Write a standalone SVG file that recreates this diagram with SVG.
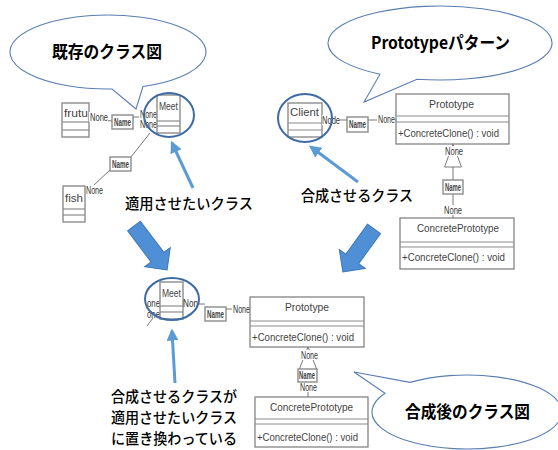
<svg xmlns="http://www.w3.org/2000/svg" width="558" height="450" viewBox="0 0 558 450">
  <style>
    .bubble { fill: #ffffff; stroke: #5a7eb2; stroke-width: 1.1; }
    .title { font-family: "Noto Sans CJK JP", "Liberation Sans", sans-serif; font-weight: bold; font-size: 17px; fill: #000; }
    .note { font-family: "Noto Sans CJK JP", "Liberation Sans", sans-serif; font-weight: 500; font-size: 15px; fill: #000; }
    .cls { fill: #ffffff; stroke: #8c8c8c; stroke-width: 1.4; }
    .big { fill: #ffffff; stroke: #7a7a7a; stroke-width: 1.2; }
    .sep { stroke: #8c8c8c; stroke-width: 1.2; fill: none; }
    .ctext { font-family: "Liberation Sans", "DejaVu Sans", sans-serif; font-size: 11px; fill: #444; }
    .lbl { font-family: "Liberation Sans", "DejaVu Sans", sans-serif; font-size: 10px; fill: #333; }
    .namebox { fill: #ffffff; stroke: #8c8c8c; stroke-width: 1.4; }
    .nametext { font-family: "Liberation Sans", "DejaVu Sans", sans-serif; font-size: 10px; font-weight: bold; fill: #444; }
    .link { stroke: #7a7a7a; stroke-width: 1; fill: none; }
    .ring { fill: none; stroke: #3e6ba3; stroke-width: 2; }
    .pointer { stroke: #5b9bd5; stroke-width: 3; fill: none; }
    .block { fill: #4f8fd6; stroke: #3b77bd; stroke-width: 1; }
  </style>
  <defs>
    <marker id="head" viewBox="0 0 10 10" refX="8" refY="5" markerWidth="4" markerHeight="4" orient="auto">
      <path d="M0,0 L10,5 L0,10 Z" fill="#5b9bd5"/>
    </marker>
  </defs>

  <!-- speech bubbles -->
  <g id="bubble-existing">
    <path class="bubble" d="M143,86.56 A98,37 0 1 0 112,88.97 L136,109 Z"/>
    <text class="title" x="52" y="58" textLength="110" lengthAdjust="spacingAndGlyphs">既存のクラス図</text>
  </g>
  <g id="bubble-pattern">
    <path class="bubble" d="M417,79.21 A112,37 0 1 0 380,74.24 L364,102 Z"/>
    <text class="title" x="371" y="49" textLength="139" lengthAdjust="spacingAndGlyphs">Prototypeパターン</text>
  </g>
  <g id="bubble-merged">
    <path class="bubble" d="M410,382.4 A95,37 0 1 1 385,393.3 L354,372 Z"/>
    <text class="title" x="405" y="418" textLength="125" lengthAdjust="spacingAndGlyphs">合成後のクラス図</text>
  </g>

  <!-- connectors -->
  <g id="connectors">
    <!-- existing diagram -->
    <line class="link" x1="89" y1="119" x2="112" y2="121"/>
    <line class="link" x1="133" y1="117" x2="157" y2="117"/>
    <line class="link" x1="150" y1="133" x2="131" y2="157"/>
    <line class="link" x1="110" y1="170" x2="94" y2="185"/>
    <!-- pattern diagram -->
    <line class="link" x1="322" y1="120" x2="347" y2="120"/>
    <line class="link" x1="368" y1="120" x2="396" y2="120"/>
    <path class="link" d="M453,144 L444.5,167 L461.5,167 Z" fill="#fff"/>
    <line class="link" x1="453" y1="167" x2="453" y2="180"/>
    <line class="link" x1="453" y1="194" x2="453" y2="218"/>
    <!-- merged diagram -->
    <line class="link" x1="199" y1="304" x2="205" y2="304"/>
    <line class="link" x1="226" y1="309" x2="250" y2="309"/>
    <line class="link" x1="147" y1="326" x2="153" y2="318"/>
    <path class="link" d="M308,347 L299,370 M308,347 L317,370"/>
    <line class="link" x1="308" y1="383" x2="308" y2="397"/>
  </g>

  <!-- existing class diagram -->
  <g id="class-frutu">
    <rect class="cls" x="62" y="103" width="27" height="34"/>
    <line class="sep" x1="62" y1="122" x2="89" y2="122"/>
    <line class="sep" x1="62" y1="130" x2="89" y2="130"/>
    <text class="ctext" x="64" y="117" textLength="24" lengthAdjust="spacingAndGlyphs">frutu</text>
  </g>
  <g id="name-1">
    <rect x="89" y="112" width="19" height="10" fill="#fff"/>
    <text class="lbl" x="90" y="121" textLength="18" lengthAdjust="spacingAndGlyphs">None</text>
    <rect class="namebox" x="112" y="115" width="21" height="14"/>
    <text class="nametext" x="114" y="126" textLength="17" lengthAdjust="spacingAndGlyphs">Name</text>
  </g>
  <g id="class-meet">
    <rect x="139" y="109" width="18" height="21" fill="#fff"/>
    <text class="lbl" x="140" y="118" font-size="9" textLength="17" lengthAdjust="spacingAndGlyphs">None</text>
    <text class="lbl" x="140" y="128" font-size="9" textLength="17" lengthAdjust="spacingAndGlyphs">None</text>
    <rect class="cls" x="157" y="95" width="23" height="38"/>
    <line class="sep" x1="157" y1="121" x2="180" y2="121"/>
    <line class="sep" x1="157" y1="126" x2="180" y2="126"/>
    <text class="ctext" x="159" y="110" textLength="19" lengthAdjust="spacingAndGlyphs">Meet</text>
  </g>
  <g id="name-2">
    <rect class="namebox" x="110" y="157" width="21" height="14"/>
    <text class="nametext" x="112" y="168" textLength="17" lengthAdjust="spacingAndGlyphs">Name</text>
  </g>
  <g id="class-fish">
    <rect x="86" y="185" width="18" height="10" fill="#fff"/>
    <text class="lbl" x="86" y="194" textLength="17" lengthAdjust="spacingAndGlyphs">None</text>
    <rect class="cls" x="63" y="186" width="22" height="36"/>
    <line class="sep" x1="63" y1="209" x2="85" y2="209"/>
    <line class="sep" x1="63" y1="215" x2="85" y2="215"/>
    <text class="ctext" x="65" y="202" textLength="18" lengthAdjust="spacingAndGlyphs">fish</text>
  </g>
  <g id="ring-meet">
    <ellipse class="ring" cx="169" cy="115" rx="25" ry="22"/>
  </g>
  <g id="note-target">
    <line class="pointer" x1="193" y1="188" x2="172" y2="143" marker-end="url(#head)"/>
    <text class="note" x="125" y="209" textLength="128" lengthAdjust="spacingAndGlyphs">適用させたいクラス</text>
  </g>

  <!-- Prototype pattern diagram -->
  <g id="class-client">
    <rect class="cls" x="288" y="103" width="34" height="34"/>
    <line class="sep" x1="288" y1="123" x2="322" y2="123"/>
    <line class="sep" x1="288" y1="130" x2="322" y2="130"/>
    <text class="ctext" x="290" y="116" textLength="29" lengthAdjust="spacingAndGlyphs">Client</text>
    <rect x="322" y="115" width="18" height="10" fill="#fff"/>
    <text class="lbl" x="322" y="124" textLength="18" lengthAdjust="spacingAndGlyphs">Node</text>
  </g>
  <g id="name-3">
    <rect class="namebox" x="347" y="117" width="21" height="15"/>
    <text class="nametext" x="349" y="128" textLength="17" lengthAdjust="spacingAndGlyphs">Name</text>
    <rect x="377" y="114" width="18" height="10" fill="#fff"/>
    <text class="lbl" x="378" y="123" textLength="17" lengthAdjust="spacingAndGlyphs">None</text>
  </g>
  <g id="class-prototype">
    <rect class="big" x="396" y="94" width="113" height="50"/>
    <line class="sep" x1="396" y1="116" x2="509" y2="116"/>
    <line class="sep" x1="396" y1="122" x2="509" y2="122"/>
    <text class="ctext" x="429" y="108" textLength="45" lengthAdjust="spacingAndGlyphs">Prototype</text>
    <text class="ctext" x="398" y="137" textLength="101" lengthAdjust="spacingAndGlyphs">+ConcreteClone() : void</text>
  </g>
  <g id="name-4">
    <rect x="445" y="146" width="18" height="10" fill="#fff"/>
    <text class="lbl" x="445" y="155" textLength="18" lengthAdjust="spacingAndGlyphs">None</text>
    <rect class="namebox" x="443" y="180" width="20" height="14"/>
    <text class="nametext" x="445" y="191" textLength="16" lengthAdjust="spacingAndGlyphs">Name</text>
    <rect x="444" y="205" width="18" height="10" fill="#fff"/>
    <text class="lbl" x="444" y="214" textLength="18" lengthAdjust="spacingAndGlyphs">None</text>
  </g>
  <g id="class-concrete">
    <rect class="big" x="400" y="218" width="114" height="51"/>
    <line class="sep" x1="400" y1="242" x2="514" y2="242"/>
    <line class="sep" x1="400" y1="247" x2="514" y2="247"/>
    <text class="ctext" x="417" y="232" textLength="82" lengthAdjust="spacingAndGlyphs">ConcretePrototype</text>
    <text class="ctext" x="402" y="261" textLength="103" lengthAdjust="spacingAndGlyphs">+ConcreteClone() : void</text>
  </g>
  <g id="ring-client">
    <ellipse class="ring" cx="305" cy="118" rx="27" ry="24"/>
  </g>
  <g id="note-source">
    <line class="pointer" x1="358" y1="182" x2="311" y2="147" marker-end="url(#head)"/>
    <text class="note" x="301" y="201" textLength="112" lengthAdjust="spacingAndGlyphs">合成させるクラス</text>
  </g>

  <!-- block arrows -->
  <g id="arrow-left">
    <polygon class="block" transform="translate(134,226) rotate(53)" points="0,-8 39,-8 39,-16 55,0 39,16 39,8 0,8"/>
  </g>
  <g id="arrow-right">
    <polygon class="block" transform="translate(374,229) rotate(126)" points="0,-8 37,-8 37,-16 53,0 37,16 37,8 0,8"/>
  </g>

  <!-- merged class diagram -->
  <g id="merged-meet">
    <text class="lbl" x="147" y="307" textLength="13" lengthAdjust="spacingAndGlyphs">one</text>
    <text class="lbl" x="147" y="318" textLength="13" lengthAdjust="spacingAndGlyphs">one</text>
    <rect class="cls" x="160" y="282" width="23" height="37"/>
    <line class="sep" x1="160" y1="306" x2="183" y2="306"/>
    <line class="sep" x1="160" y1="312" x2="183" y2="312"/>
    <text class="ctext" x="162" y="297" textLength="19" lengthAdjust="spacingAndGlyphs">Meet</text>
    <text class="lbl" x="183" y="307" textLength="15" lengthAdjust="spacingAndGlyphs">Non</text>
  </g>
  <g id="ring-merged">
    <ellipse class="ring" cx="172" cy="299" rx="27" ry="21"/>
  </g>
  <g id="name-5">
    <rect class="namebox" x="205" y="307" width="21" height="14"/>
    <text class="nametext" x="207" y="318" textLength="17" lengthAdjust="spacingAndGlyphs">Name</text>
    <rect x="232" y="304" width="18" height="10" fill="#fff"/>
    <text class="lbl" x="233" y="313" textLength="17" lengthAdjust="spacingAndGlyphs">None</text>
  </g>
  <g id="merged-prototype">
    <rect class="big" x="250" y="297" width="114" height="50"/>
    <line class="sep" x1="250" y1="321" x2="364" y2="321"/>
    <line class="sep" x1="250" y1="326" x2="364" y2="326"/>
    <text class="ctext" x="285" y="311" textLength="44" lengthAdjust="spacingAndGlyphs">Prototype</text>
    <text class="ctext" x="252" y="341" textLength="102" lengthAdjust="spacingAndGlyphs">+ConcreteClone() : void</text>
  </g>
  <g id="name-6">
    <rect x="300" y="350" width="18" height="10" fill="#fff"/>
    <text class="lbl" x="301" y="359" textLength="17" lengthAdjust="spacingAndGlyphs">None</text>
    <rect class="namebox" x="298" y="369" width="19" height="13"/>
    <text class="nametext" x="299" y="379" textLength="16" lengthAdjust="spacingAndGlyphs">Name</text>
    <rect x="300" y="383" width="17" height="9" fill="#fff"/>
    <text class="lbl" x="300" y="391" textLength="17" lengthAdjust="spacingAndGlyphs">None</text>
  </g>
  <g id="merged-concrete">
    <rect class="big" x="255" y="397" width="113" height="50"/>
    <line class="sep" x1="255" y1="419" x2="368" y2="419"/>
    <line class="sep" x1="255" y1="424" x2="368" y2="424"/>
    <text class="ctext" x="270" y="411" textLength="83" lengthAdjust="spacingAndGlyphs">ConcretePrototype</text>
    <text class="ctext" x="257" y="441" textLength="101" lengthAdjust="spacingAndGlyphs">+ConcreteClone() : void</text>
  </g>
  <g id="note-merged">
    <line class="pointer" x1="175" y1="383" x2="172" y2="331" marker-end="url(#head)"/>
    <text class="note" x="111" y="402" textLength="126" lengthAdjust="spacingAndGlyphs">合成させるクラスが</text>
    <text class="note" x="111" y="423" textLength="126" lengthAdjust="spacingAndGlyphs">適用させたいクラス</text>
    <text class="note" x="111" y="444" textLength="126" lengthAdjust="spacingAndGlyphs">に置き換わっている</text>
  </g>
</svg>
